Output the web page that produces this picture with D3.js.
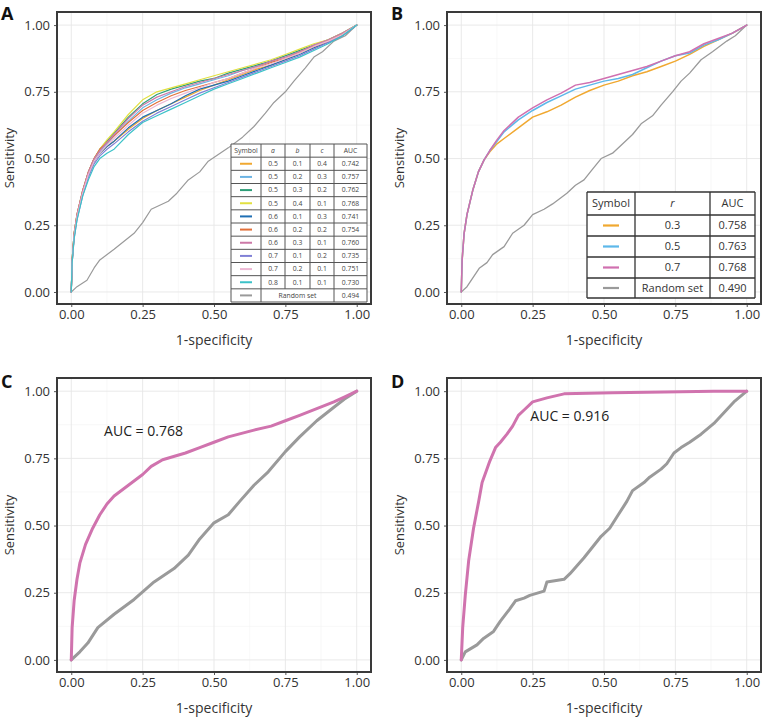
<!DOCTYPE html>
<html><head><meta charset="utf-8">
<script src="https://cdn.jsdelivr.net/npm/d3@7"></script>
<style>body{margin:0;background:#fff}svg{display:block}text{font-family:"Open Sans",sans-serif}</style>
</head><body><svg id="c" width="762" height="717"></svg>
<script>
// ---------- DATA ----------
const tickLabels = ["0.00","0.25","0.50","0.75","1.00"];
const tickValues = [0,0.25,0.5,0.75,1];
const fprGrid = [0,.003,.01,.02,.04,.06,.08,.10,.125,.15,.2,.25,.3,.35,.4,.45,.5,.55,.6,.65,.7,.75,.8,.85,.9,.95,1];

// Panel A
const paramA = [["0.5","0.1","0.4"],["0.5","0.2","0.3"],["0.5","0.3","0.2"],["0.5","0.4","0.1"],["0.6","0.1","0.3"],["0.6","0.2","0.2"],["0.6","0.3","0.1"],["0.7","0.1","0.2"],["0.7","0.2","0.1"],["0.8","0.1","0.1"]];
const aucA = ["0.742","0.757","0.762","0.768","0.741","0.754","0.760","0.735","0.751","0.730"];
const randomAucA = "0.494";
const colorsA = ["#F0A830","#6CB4E4","#2E9E78","#E2E040","#1F6FB4","#E2703A","#CC79A7","#8080D6","#EDB8D4","#3CC2C8"];
const tprA = [
 [0,.11,.21,.28,.37,.44,.49,.52,.545,.565,.61,.65,.68,.705,.73,.755,.775,.795,.815,.835,.85,.87,.895,.915,.94,.965,1],
 [0,.12,.21,.28,.37,.44,.49,.525,.555,.585,.64,.69,.72,.745,.765,.78,.795,.81,.83,.845,.865,.885,.90,.92,.94,.965,1],
 [0,.12,.22,.29,.38,.45,.50,.535,.565,.595,.655,.705,.74,.76,.775,.79,.80,.82,.835,.85,.865,.885,.905,.925,.945,.97,1],
 [0,.12,.22,.29,.38,.45,.50,.535,.57,.60,.665,.72,.75,.765,.78,.795,.81,.825,.84,.855,.87,.89,.91,.93,.945,.97,1],
 [0,.11,.21,.28,.37,.44,.49,.52,.545,.565,.615,.655,.68,.705,.735,.76,.775,.79,.81,.83,.85,.87,.89,.915,.935,.96,1],
 [0,.12,.22,.29,.38,.45,.50,.535,.56,.585,.635,.68,.71,.735,.755,.77,.785,.80,.82,.84,.86,.875,.90,.92,.94,.965,1],
 [0,.12,.22,.29,.38,.45,.50,.53,.56,.59,.65,.70,.73,.75,.77,.785,.80,.815,.83,.845,.865,.88,.90,.925,.945,.97,1],
 [0,.11,.20,.27,.36,.43,.48,.51,.535,.555,.60,.64,.67,.695,.72,.745,.765,.785,.805,.825,.845,.865,.885,.91,.935,.96,1],
 [0,.11,.21,.28,.37,.44,.49,.52,.55,.575,.625,.67,.70,.725,.745,.765,.785,.80,.82,.84,.855,.875,.895,.92,.94,.965,1],
 [0,.11,.20,.27,.36,.42,.47,.50,.52,.535,.59,.635,.66,.685,.71,.735,.76,.78,.80,.82,.84,.86,.88,.905,.93,.96,1]
];
const randomA = [[0,0],[.02,.02],[.055,.044],[.08,.09],[.10,.12],[.15,.16],[.22,.22],[.25,.26],[.28,.31],[.34,.34],[.37,.37],[.41,.42],[.45,.45],[.48,.49],[.55,.54],[.60,.58],[.64,.62],[.68,.67],[.71,.71],[.75,.75],[.78,.79],[.82,.84],[.85,.88],[.88,.90],[.92,.94],[.96,.96],[1,1]];

// Panel B
const rValues = ["0.3","0.5","0.7"];
const aucB = ["0.758","0.763","0.768"];
const randomAucB = "0.490";
const colorsB = ["#F0A830","#5DB8EA","#D070B0"];
const tprB = [
 [0,.12,.22,.29,.38,.45,.495,.525,.555,.575,.615,.655,.675,.70,.73,.755,.775,.79,.81,.825,.845,.865,.89,.92,.945,.97,1],
 [0,.12,.22,.29,.38,.45,.495,.53,.565,.60,.645,.68,.71,.735,.76,.775,.79,.80,.815,.84,.865,.885,.895,.925,.945,.97,1],
 [0,.12,.22,.29,.38,.45,.495,.53,.57,.605,.655,.69,.72,.745,.775,.785,.80,.815,.83,.845,.865,.885,.90,.93,.95,.97,1]
];
const randomB = [[0,0],[.02,.02],[.064,.09],[.09,.11],[.11,.14],[.15,.17],[.18,.22],[.22,.25],[.25,.29],[.29,.31],[.32,.33],[.37,.37],[.40,.40],[.43,.42],[.46,.46],[.49,.50],[.53,.52],[.56,.55],[.60,.59],[.63,.63],[.67,.66],[.70,.70],[.74,.75],[.77,.79],[.80,.82],[.84,.87],[.88,.90],[.93,.94],[.96,.96],[1,1]];

// Panel C
const aucC = "0.768";
const rocC = [[0,0],[.003,.12],[.01,.22],[.02,.30],[.03,.36],[.05,.43],[.075,.49],[.10,.54],[.125,.58],[.15,.61],[.20,.65],[.25,.69],[.28,.72],[.32,.745],[.40,.77],[.45,.79],[.50,.81],[.55,.83],[.64,.855],[.70,.87],[.75,.89],[.80,.91],[.86,.935],[.92,.96],[.96,.98],[1,1]];
const randomC = [[0,0],[.03,.03],[.058,.0625],[.093,.12],[.15,.17],[.22,.225],[.29,.29],[.36,.34],[.41,.39],[.45,.45],[.50,.51],[.55,.54],[.59,.59],[.64,.65],[.69,.70],[.75,.775],[.80,.83],[.86,.89],[.92,.94],[.956,.97],[1,1]];

// Panel D
const aucD = "0.916";
const rocD = [[0,0],[.005,.12],[.014,.24],[.026,.37],[.043,.49],[.061,.59],[.073,.66],[.09,.71],[.10,.74],[.12,.79],[.137,.81],[.16,.84],[.18,.87],[.20,.91],[.22,.93],[.25,.96],[.30,.975],[.36,.99],[.53,.994],[.71,.997],[.885,1],[1,1]];
const randomD = [[0,0],[.014,.03],[.055,.056],[.078,.08],[.113,.106],[.137,.144],[.17,.19],[.19,.22],[.22,.23],[.24,.24],[.29,.256],[.30,.29],[.36,.30],[.38,.32],[.41,.356],[.43,.38],[.46,.42],[.49,.46],[.52,.49],[.55,.54],[.58,.59],[.60,.63],[.64,.66],[.66,.68],[.70,.71],[.72,.73],[.745,.77],[.77,.79],[.80,.81],[.84,.84],[.885,.88],[.92,.92],[.955,.96],[1,1]];

const grayCol = "#9A9A9A";

// ---------- DRAW ----------
const svg = d3.select("#c");
let clipId = 0;

function panel(o){
  const x = d3.scaleLinear().domain([-0.05,1.05]).range([o.left,o.right]);
  const y = d3.scaleLinear().domain([-0.045,1.049]).range([o.bottom,o.top]);
  const g = svg.append("g");
  const minor = [0.125,0.375,0.625,0.875];
  g.selectAll(null).data(minor).enter().append("line")
    .attr("x1",d=>x(d)).attr("x2",d=>x(d)).attr("y1",o.top).attr("y2",o.bottom)
    .attr("stroke","#f3f3f3").attr("stroke-width",0.6);
  g.selectAll(null).data(minor).enter().append("line")
    .attr("y1",d=>y(d)).attr("y2",d=>y(d)).attr("x1",o.left).attr("x2",o.right)
    .attr("stroke","#f3f3f3").attr("stroke-width",0.6);
  g.selectAll(null).data(tickValues).enter().append("line")
    .attr("x1",d=>x(d)).attr("x2",d=>x(d)).attr("y1",o.top).attr("y2",o.bottom)
    .attr("stroke","#e6e6e6").attr("stroke-width",0.9);
  g.selectAll(null).data(tickValues).enter().append("line")
    .attr("y1",d=>y(d)).attr("y2",d=>y(d)).attr("x1",o.left).attr("x2",o.right)
    .attr("stroke","#e6e6e6").attr("stroke-width",0.9);
  const cid = "clip"+(clipId++);
  svg.append("clipPath").attr("id",cid).append("rect")
    .attr("x",o.left).attr("y",o.top).attr("width",o.right-o.left).attr("height",o.bottom-o.top);
  const lines = g.append("g").attr("clip-path",`url(#${cid})`);
  const line = d3.line().x(d=>x(d[0])).y(d=>y(d[1]));
  o.curves.forEach(c=>{
    lines.append("path").attr("d",line(c.pts)).attr("fill","none")
      .attr("stroke",c.color).attr("stroke-width",c.w).attr("stroke-linejoin","round").attr("stroke-linecap","round");
  });
  const xa = d3.axisBottom(x).tickValues(tickValues).tickFormat((d,i)=>tickLabels[i]).tickSize(3).tickPadding(3);
  const ya = d3.axisLeft(y).tickValues(tickValues).tickFormat((d,i)=>tickLabels[i]).tickSize(3).tickPadding(4);
  const gx = g.append("g").attr("transform",`translate(0,${o.bottom})`).call(xa);
  const gy = g.append("g").attr("transform",`translate(${o.left},0)`).call(ya);
  [gx,gy].forEach(a=>{
    a.select(".domain").remove();
    a.selectAll(".tick line").attr("stroke","#444").attr("stroke-width",0.9);
    a.selectAll(".tick text").attr("fill","#333").attr("font-size",13).attr("font-family","Open Sans");
  });
  g.append("rect").attr("x",o.left).attr("y",o.top).attr("width",o.right-o.left).attr("height",o.bottom-o.top)
    .attr("fill","none").attr("stroke","#3a3a3a").attr("stroke-width",2);
  g.append("text").attr("x",(x(0)+x(1))/2).attr("y",o.bottom+41).attr("text-anchor","middle")
    .attr("font-size",14).attr("fill","#333").text("1-specificity");
  g.append("text").attr("transform",`translate(${o.left-43},${(o.top+o.bottom)/2}) rotate(-90)`)
    .attr("text-anchor","middle").attr("font-size",13).attr("fill","#333").text("Sensitivity");
  g.append("text").attr("x",o.labelX).attr("y",o.labelY).attr("font-size",18).attr("font-weight","bold")
    .attr("font-family","Open Sans").attr("fill","#111").text(o.label);
  if(o.auc){
    g.append("text").attr("x",x(o.auc.x)).attr("y",y(o.auc.y)).attr("dy","0.35em")
      .attr("font-size",14).attr("fill","#222").text("AUC = "+o.auc.v);
  }
  return {x,y,g};
}

const curvesA = tprA.map((t,i)=>({pts:fprGrid.map((f,j)=>[f,t[j]]),color:colorsA[i],w:1.2}));
curvesA.unshift({pts:randomA,color:grayCol,w:1.2});
panel({left:57,right:371,top:12,bottom:304,label:"A",labelX:1,labelY:20,curves:curvesA});

const curvesB = tprB.map((t,i)=>({pts:fprGrid.map((f,j)=>[f,t[j]]),color:colorsB[i],w:1.5}));
curvesB.unshift({pts:randomB,color:grayCol,w:1.3});
panel({left:447,right:761,top:12,bottom:304,label:"B",labelX:391,labelY:20,curves:curvesB});

panel({left:57,right:371,top:378,bottom:672,label:"C",labelX:1,labelY:388,
  curves:[{pts:randomC,color:grayCol,w:3},{pts:rocC,color:"#D073AE",w:3}],auc:{x:0.115,y:0.853,v:aucC}});
panel({left:447,right:761,top:378,bottom:672,label:"D",labelX:391,labelY:388,
  curves:[{pts:randomD,color:grayCol,w:3},{pts:rocD,color:"#D073AE",w:3}],auc:{x:0.242,y:0.906,v:aucD}});

// Table A
(function(){
  const cols=[231,261,285,310,334,367];
  const top=144, rowH=(302-144)/12;
  const t = svg.append("g");
  t.append("rect").attr("x",cols[0]).attr("y",top).attr("width",cols[5]-cols[0]).attr("height",rowH*12).attr("fill","#fff");
  const hdr=["Symbol","a","b","c","AUC"];
  const fs=6.8;
  hdr.forEach((h,i)=>t.append("text").attr("x",(cols[i]+cols[i+1])/2).attr("y",top+rowH/2).attr("dy","0.35em")
    .attr("text-anchor","middle").attr("font-size",fs).attr("fill","#444").attr("font-style",(i>0&&i<4)?"italic":"normal").text(h));
  for(let r=0;r<10;r++){
    const cy=top+rowH*(r+1)+rowH/2;
    t.append("line").attr("x1",(cols[0]+cols[1])/2-6).attr("x2",(cols[0]+cols[1])/2+6).attr("y1",cy).attr("y2",cy)
      .attr("stroke",colorsA[r]).attr("stroke-width",2);
    const vals=[...paramA[r],aucA[r]];
    vals.forEach((v,i)=>t.append("text").attr("x",(cols[i+1]+cols[i+2])/2).attr("y",cy).attr("dy","0.35em")
      .attr("text-anchor","middle").attr("font-size",fs).attr("fill","#444").text(v));
  }
  const cyR=top+rowH*11+rowH/2;
  t.append("line").attr("x1",(cols[0]+cols[1])/2-6).attr("x2",(cols[0]+cols[1])/2+6).attr("y1",cyR).attr("y2",cyR)
    .attr("stroke",grayCol).attr("stroke-width",2);
  t.append("text").attr("x",(cols[1]+cols[4])/2).attr("y",cyR).attr("dy","0.35em").attr("text-anchor","middle")
    .attr("font-size",fs).attr("fill","#444").text("Random set");
  t.append("text").attr("x",(cols[4]+cols[5])/2).attr("y",cyR).attr("dy","0.35em").attr("text-anchor","middle")
    .attr("font-size",fs).attr("fill","#444").text(randomAucA);
  for(let r=0;r<=12;r++) t.append("line").attr("x1",cols[0]).attr("x2",cols[5]).attr("y1",top+rowH*r).attr("y2",top+rowH*r)
    .attr("stroke","#555").attr("stroke-width",1);
  cols.forEach((c,i)=>{
    const partial = (i===2||i===3);
    t.append("line").attr("x1",c).attr("x2",c).attr("y1",top).attr("y2",partial?top+rowH*11:top+rowH*12)
      .attr("stroke","#555").attr("stroke-width",1);
  });
})();

// Table B
(function(){
  const cols=[587,635,710,755];
  const rows=[192,215,236,257,278,298];
  const t = svg.append("g");
  t.append("rect").attr("x",cols[0]).attr("y",rows[0]).attr("width",cols[3]-cols[0]).attr("height",rows[5]-rows[0]).attr("fill","#fff");
  const fs=11;
  const hdr=["Symbol","r","AUC"];
  hdr.forEach((h,i)=>t.append("text").attr("x",(cols[i]+cols[i+1])/2).attr("y",(rows[0]+rows[1])/2).attr("dy","0.35em")
    .attr("text-anchor","middle").attr("font-size",fs).attr("fill","#333").attr("font-style",i===1?"italic":"normal").text(h));
  const labels=[...rValues,"Random set"], aucs=[...aucB,randomAucB], cols2=[...colorsB,grayCol];
  for(let r=0;r<4;r++){
    const cy=(rows[r+1]+rows[r+2])/2;
    t.append("line").attr("x1",(cols[0]+cols[1])/2-8).attr("x2",(cols[0]+cols[1])/2+8).attr("y1",cy).attr("y2",cy)
      .attr("stroke",cols2[r]).attr("stroke-width",2.2);
    t.append("text").attr("x",(cols[1]+cols[2])/2).attr("y",cy).attr("dy","0.35em").attr("text-anchor","middle")
      .attr("font-size",fs).attr("fill","#333").text(labels[r]);
    t.append("text").attr("x",(cols[2]+cols[3])/2).attr("y",cy).attr("dy","0.35em").attr("text-anchor","middle")
      .attr("font-size",fs).attr("fill","#333").text(aucs[r]);
  }
  rows.forEach(ry=>t.append("line").attr("x1",cols[0]).attr("x2",cols[3]).attr("y1",ry).attr("y2",ry).attr("stroke","#333").attr("stroke-width",1.3));
  cols.forEach(cx=>t.append("line").attr("x1",cx).attr("x2",cx).attr("y1",rows[0]).attr("y2",rows[5]).attr("stroke","#333").attr("stroke-width",1.3));
})();
</script></body></html>
